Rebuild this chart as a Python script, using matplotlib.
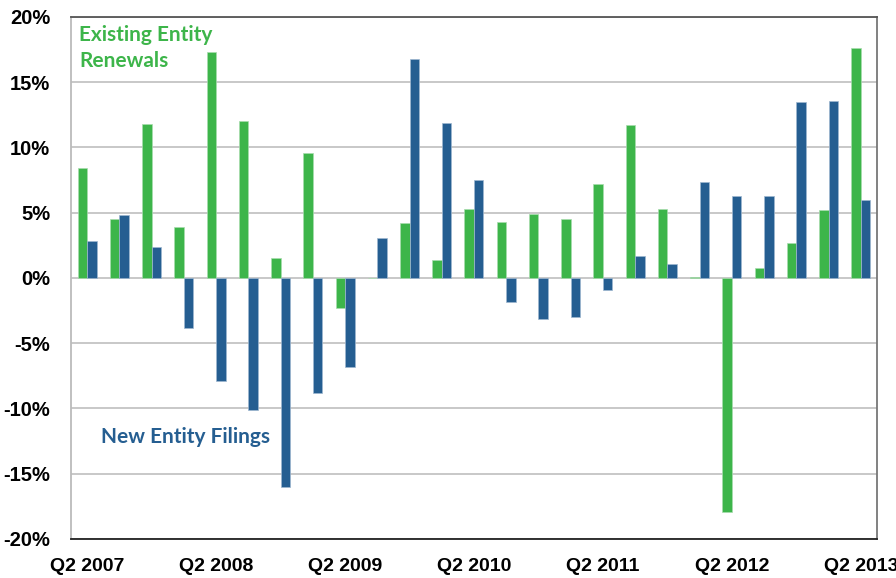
import numpy as np
import matplotlib.pyplot as plt

# quarterly % change, Q2 2007 .. Q2 2013
quarters = ["Q2 2007", "Q3 2007", "Q4 2007", "Q1 2008",
            "Q2 2008", "Q3 2008", "Q4 2008", "Q1 2009",
            "Q2 2009", "Q3 2009", "Q4 2009", "Q1 2010",
            "Q2 2010", "Q3 2010", "Q4 2010", "Q1 2011",
            "Q2 2011", "Q3 2011", "Q4 2011", "Q1 2012",
            "Q2 2012", "Q3 2012", "Q4 2012", "Q1 2013",
            "Q2 2013"]
renewals = [8.4, 4.5, 11.8, 3.9, 17.3, 12.0, 1.5, 9.6, -2.3, 0.0,
            4.2, 1.4, 5.3, 4.3, 4.9, 4.5, 7.2, 11.7, 5.3, 0.05,
            -17.9, 0.8, 2.7, 5.2, 17.6]
filings = [2.8, 4.8, 2.4, -3.8, -7.9, -10.1, -16.0, -8.8, -6.8, 3.1,
           16.8, 11.9, 7.5, -1.85, -3.15, -3.0, -0.9, 1.7, 1.05, 7.35,
           6.25, 6.25, 13.5, 13.6, 6.0]
yticks = [-20, -15, -10, -5, 0, 5, 10, 15, 20]

GREEN = "#3db54a"
BLUE = "#255e91"

plt.rcParams['font.family'] = ['Liberation Sans', 'DejaVu Sans']

fig = plt.figure(figsize=(8.96, 5.78), dpi=100)
ax = fig.add_axes([0.0792, 0.0675, 0.8996, 0.9031])

x = np.arange(len(quarters))
w = 0.295
ax.bar(x - w / 2, renewals, width=w, color=GREEN, edgecolor="#a8dcae", linewidth=0.5, zorder=3)
ax.bar(x + w / 2, filings, width=w, color=BLUE, edgecolor="#9fb8d0", linewidth=0.5, zorder=3)

ax.set_xlim(-0.5, len(quarters) - 0.5)
ax.set_ylim(-20, 20)
ax.set_yticks(yticks)
ax.set_yticklabels([f"{v}%" for v in yticks], fontsize=14.5, fontweight='bold')
ax.set_xticks(x[::4])
ax.set_xticklabels(quarters[::4], fontsize=14, fontweight='bold')
ax.tick_params(axis='both', length=0)
ax.tick_params(axis='y', pad=15)
ax.tick_params(axis='x', pad=14)

ax.yaxis.grid(True, color="#c4c4c4", linewidth=1.3, zorder=0)
ax.set_axisbelow(True)

ax.spines['top'].set_color("#555555")
ax.spines['right'].set_color("#777777")
ax.spines['left'].set_color("#bbbbbb")
ax.spines['bottom'].set_color("#222222")
for s in ax.spines.values():
    s.set_linewidth(1.3)

ax.text(-0.25, 18.16, "Existing Entity", color=GREEN, fontsize=15,
        fontweight='bold', family='Lato', va='baseline', ha='left')
ax.text(-0.25, 16.17, "Renewals", color=GREEN, fontsize=15,
        fontweight='bold', family='Lato', va='baseline', ha='left')
ax.text(0.43, -12.64, "New Entity Filings", color=BLUE, fontsize=15,
        fontweight='bold', family='Lato', va='baseline', ha='left')

fig.savefig("out.png", dpi=100)
